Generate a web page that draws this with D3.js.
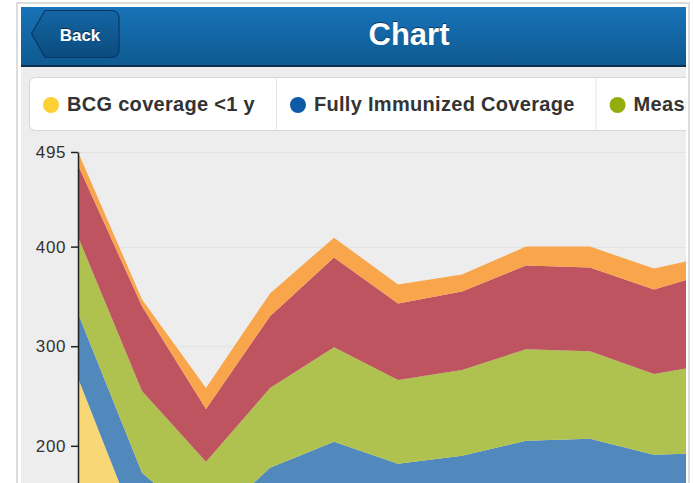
<!DOCTYPE html>
<html>
<head>
<meta charset="utf-8">
<script src="https://cdn.jsdelivr.net/npm/d3@7/dist/d3.min.js"></script>
<style>
  body { margin: 0; background: #fff; overflow: hidden; }
  svg { display: block; font-family: "Liberation Sans", Arial, Helvetica, sans-serif; }
</style>
</head>
<body>
<svg id="chart" width="693" height="483"></svg>
<script>
// periods along the x axis (labels sit below the visible part of the screen)
const periods = ['P1', 'P2', 'P3', 'P4', 'P5', 'P6', 'P7', 'P8', 'P9', 'P10', 'P11'];

// only the first three legend entries fit on screen
const legendNames = ['BCG coverage <1 y', 'Fully Immunized Coverage', 'Measles Coverage'];
const legendColors = ['#fdd035', '#0f5aa6', '#94ad0c'];
const seriesColors = ['#f9d776', '#5189bd', '#afc14e', '#bd5460', '#f9a54b'];

const bcg      = [268, 105, 60, 95, 115, 100, 105, 115, 115, 105, 108];
const fully    = [65, 68, 58, 83, 89, 82, 85, 90, 92, 86, 85];
const measles  = [77, 82, 66, 80, 95, 84, 86, 92, 88, 81, 90];
const dpt3     = [72, 85, 53, 72, 90, 77, 79, 84, 84, 85, 93];
const opv3     = [13, 7, 21, 23, 20, 19, 17, 19, 21, 21, 16];

// ticks on the visible part of the axis
const yTicks = [200, 300, 400, 495];

const svg = d3.select('#chart');
const defs = svg.append('defs');

// page frame
svg.append('rect').attr('x', 17).attr('y', 3).attr('width', 672).attr('height', 500)
  .attr('fill', '#fff').attr('stroke', '#dcdcdc').attr('stroke-width', 2);

defs.append('clipPath').attr('id', 'content')
  .append('rect').attr('x', 21).attr('y', 7).attr('width', 665).attr('height', 480);

const page = svg.append('g').attr('clip-path', 'url(#content)');
page.append('rect').attr('x', 21).attr('y', 7).attr('width', 665).attr('height', 480).attr('fill', '#ededed');

// header bar
const hg = defs.append('linearGradient').attr('id', 'hdr').attr('x1', 0).attr('y1', 0).attr('x2', 0).attr('y2', 1);
hg.append('stop').attr('offset', 0).attr('stop-color', '#1873b8');
hg.append('stop').attr('offset', 1).attr('stop-color', '#0e5990');
page.append('rect').attr('x', 21).attr('y', 7).attr('width', 665).attr('height', 59).attr('fill', 'url(#hdr)');
page.append('rect').attr('x', 21).attr('y', 65).attr('width', 665).attr('height', 2).attr('fill', '#0a2e4e');

const bg = defs.append('linearGradient').attr('id', 'btn').attr('x1', 0).attr('y1', 0).attr('x2', 0).attr('y2', 1);
bg.append('stop').attr('offset', 0).attr('stop-color', '#1466a4');
bg.append('stop').attr('offset', 1).attr('stop-color', '#0b4b7e');
page.append('path')
  .attr('d', 'M31.5,33.5 L45,10.5 H111 Q119,10.5 119,18.5 V49.5 Q119,57.5 111,57.5 H45 Z')
  .attr('fill', 'url(#btn)').attr('stroke', '#083862').attr('stroke-width', 1.2);
page.append('text').attr('x', 80).attr('y', 40.5).attr('text-anchor', 'middle')
  .attr('font-size', 17).attr('font-weight', 'bold').attr('fill', '#fff')
  .style('text-shadow', '0 -1px 0 rgba(0,0,0,0.5)').text('Back');
page.append('text').attr('x', 409).attr('y', 45).attr('text-anchor', 'middle')
  .attr('font-size', 31).attr('font-weight', 'bold').attr('fill', '#fff')
  .style('text-shadow', '0 -1px 0 rgba(0,0,0,0.5)').text('Chart');

// legend strip
page.append('rect').attr('x', 29.5).attr('y', 77.5).attr('width', 720).attr('height', 53).attr('rx', 6)
  .attr('fill', '#fff').attr('stroke', '#d6d6d6');
let lx = 29;
legendNames.forEach((name, i) => {
  const item = page.append('g');
  item.append('circle').attr('cx', lx + 22).attr('cy', 105).attr('r', 8)
    .attr('fill', legendColors[i]);
  const t = item.append('text').attr('x', lx + 38).attr('y', 111)
    .attr('font-size', 20).attr('font-weight', 'bold').attr('letter-spacing', 0.3)
    .attr('fill', '#333').text(name);
  lx = lx + 38 + t.node().getComputedTextLength() + 21;
  if (i < legendNames.length - 1) {
    page.append('line').attr('x1', lx + 0.5).attr('x2', lx + 0.5).attr('y1', 78).attr('y2', 130)
      .attr('stroke', '#e4e4e4');
  }
});

// stacked area chart
const x = d3.scalePoint().domain(periods).range([78, 718]);
const y = d3.scaleLinear().domain([0, 495]).range([645, 152]);

const rows = periods.map((p, i) => ({ p, s0: bcg[i], s1: fully[i], s2: measles[i], s3: dpt3[i], s4: opv3[i] }));
const stack = d3.stack().keys(['s0', 's1', 's2', 's3', 's4'])(rows);

const plot = page.append('g');
plot.selectAll('.grid').data(yTicks).enter().append('line')
  .attr('x1', 78).attr('x2', 686)
  .attr('y1', d => Math.round(y(d)) + 0.5).attr('y2', d => Math.round(y(d)) + 0.5)
  .attr('stroke', '#e2e2e2');

const area = d3.area()
  .x(d => x(d.data.p))
  .y0(d => y(d[0]))
  .y1(d => y(d[1]));

plot.selectAll('.layer').data(stack).enter().append('path')
  .attr('d', area)
  .attr('fill', (d, i) => seriesColors[i]);

const yAxis = plot.append('g').attr('transform', 'translate(78,0)')
  .call(d3.axisLeft(y).tickValues(yTicks).tickSize(7).tickSizeOuter(0).tickPadding(5));
yAxis.select('.domain').attr('stroke', '#222').attr('stroke-width', 1.5);
yAxis.selectAll('.tick line').attr('stroke', '#222').attr('stroke-width', 1.5);
yAxis.selectAll('.tick text').attr('font-size', 17).attr('letter-spacing', 0.6)
  .attr('fill', '#333').attr('font-family', '"Liberation Sans", Arial, sans-serif');
</script>
</body>
</html>
